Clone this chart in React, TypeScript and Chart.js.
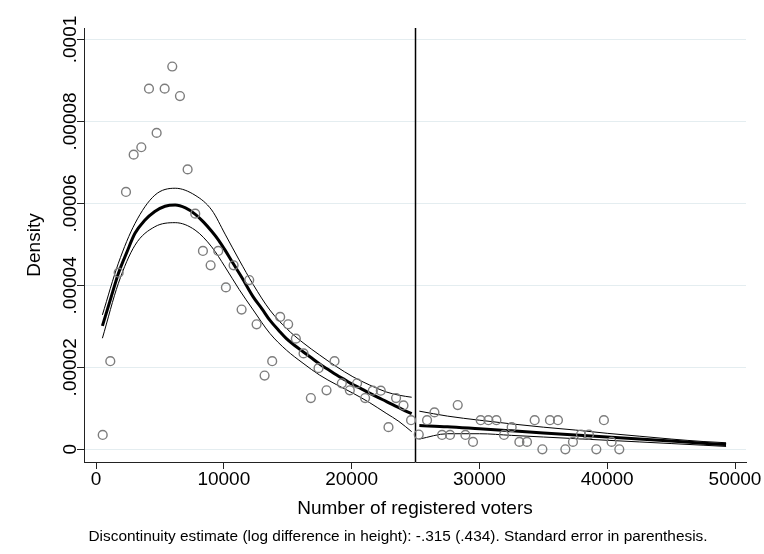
import { useEffect, useRef } from 'react';
import { Chart, registerables } from 'chart.js';

Chart.register(...registerables);

// Histogram bin midpoints and their density heights
const binX = [
  524, 1118, 1772, 2346, 2947, 3545, 4144, 4744, 5371, 5966, 6568, 7168, 7765, 8366, 8968,
  9565, 10164, 10766, 11392, 11988, 12565, 13190, 13786, 14410, 15036, 15637, 16239, 16810,
  17412, 18037, 18663, 19234, 19859, 20430, 21056, 21658, 22283, 22885, 23479, 24058, 24652,
  25254, 25903, 26482, 27076, 27701, 28303, 28905, 29499, 30101, 30703, 31329, 31923, 32525,
  33127, 33722, 34324, 34926, 35520, 36145, 36724, 37318, 37944, 38569, 39148, 39742, 40344,
  40946,
];
const binY = [
  3.5e-6, 2.15e-5, 4.31e-5, 6.28e-5, 7.19e-5, 7.37e-5, 8.8e-5, 7.72e-5, 8.8e-5, 9.34e-5,
  8.62e-5, 6.83e-5, 5.75e-5, 4.84e-5, 4.49e-5, 4.84e-5, 3.95e-5, 4.49e-5, 3.41e-5, 4.13e-5,
  3.05e-5, 1.8e-5, 2.15e-5, 3.23e-5, 3.05e-5, 2.7e-5, 2.34e-5, 1.25e-5, 1.98e-5, 1.44e-5,
  2.15e-5, 1.61e-5, 1.44e-5, 1.61e-5, 1.25e-5, 1.43e-5, 1.43e-5, 5.4e-6, 1.25e-5, 1.07e-5,
  7.1e-6,
  3.6e-6, 7.1e-6, 9.0e-6, 3.5e-6, 3.5e-6, 1.08e-5, 3.5e-6, 1.8e-6, 7.1e-6, 7.1e-6, 7.1e-6,
  3.5e-6, 5.4e-6, 1.8e-6, 1.8e-6, 7.1e-6, 0, 7.1e-6, 7.1e-6, 0, 1.8e-6, 3.6e-6, 3.6e-6, 0,
  7.1e-6, 1.8e-6, 0,
];

// Local linear density fit below the threshold
const leftFitX = [
  500, 1200, 1750, 2400, 3050, 3800, 4600, 5400, 6200, 7000, 7750, 8400, 9050, 9600, 10100,
  10700, 11400, 12300, 13000, 13600, 14300, 14900, 15600, 16200, 16900, 17500, 18200, 18800,
  19500, 20100, 20800, 21400, 22100, 22700, 23400, 24000, 24700,
];
const leftFitY = [
  3.01e-5, 3.73e-5, 4.29e-5, 4.8e-5, 5.27e-5, 5.58e-5, 5.8e-5, 5.93e-5, 5.96e-5, 5.89e-5,
  5.74e-5, 5.55e-5, 5.32e-5, 5.1e-5, 4.86e-5, 4.55e-5, 4.2e-5, 3.72e-5, 3.42e-5, 3.15e-5,
  2.9e-5, 2.7e-5, 2.52e-5, 2.38e-5, 2.22e-5, 2.08e-5, 1.94e-5, 1.82e-5, 1.69e-5, 1.58e-5,
  1.47e-5, 1.37e-5, 1.26e-5, 1.17e-5, 1.06e-5, 9.7e-6, 8.7e-6,
];

// Confidence band below the threshold
const leftBandX = [
  500, 1750, 3050, 4600, 6200, 7750, 9050, 10100, 11200, 12300, 13600, 14900, 16200, 17500,
  18800, 20100, 21400, 22700, 23700, 24700,
];
const leftUpperY = [
  3.28e-5, 4.54e-5, 5.51e-5, 6.2e-5, 6.37e-5, 6.2e-5, 5.84e-5, 5.25e-5, 4.62e-5, 4.02e-5,
  3.4e-5, 2.95e-5, 2.6e-5, 2.3e-5, 2.02e-5, 1.77e-5, 1.57e-5, 1.4e-5, 1.32e-5, 1.27e-5,
];
const leftLowerY = [
  2.71e-5, 4.05e-5, 4.98e-5, 5.43e-5, 5.53e-5, 5.35e-5, 4.94e-5, 4.45e-5, 3.9e-5, 3.4e-5,
  2.83e-5, 2.42e-5, 2.1e-5, 1.81e-5, 1.58e-5, 1.37e-5, 1.14e-5, 8.8e-6, 6.8e-6, 4.3e-6,
];

// Density fit and band above the threshold
const rightFitX = [25300, 27500, 30000, 32500, 35000, 37500, 40000, 42500, 45000, 47500, 49300];
const rightFitY = [5.8e-6, 5.5e-6, 5.0e-6, 4.5e-6, 4.0e-6, 3.5e-6, 3.0e-6, 2.5e-6, 2.0e-6, 1.5e-6, 1.15e-6];
const rightUpperY = [9.3e-6, 8.1e-6, 7.1e-6, 6.2e-6, 5.4e-6, 4.7e-6, 3.9e-6, 3.2e-6, 2.5e-6, 1.9e-6, 1.6e-6];
const rightLowerY = [2.5e-6, 3.8e-6, 3.8e-6, 3.4e-6, 3.0e-6, 2.6e-6, 2.2e-6, 1.8e-6, 1.4e-6, 1.0e-6, 0.7e-6];

const cutoff = 25000;

const xTicks = [0, 10000, 20000, 30000, 40000, 50000];
const xTickLabels = ['0', '10000', '20000', '30000', '40000', '50000'];
const yTicks = [0, 0.00002, 0.00004, 0.00006, 0.00008, 0.0001];
const yTickLabels = ['0', '.00002', '.00004', '.00006', '.00008', '.0001'];

const xTitle = 'Number of registered voters';
const yTitle = 'Density';
const noteText =
  'Discontinuity estimate (log difference in height): -.315 (.434). Standard error in parenthesis.';

const FONT = '"Liberation Sans", Arial, Helvetica, sans-serif';

const pairs = (xs: number[], ys: number[]) => xs.map((x, i) => ({ x, y: ys[i] }));

const curve = (data: { x: number; y: number }[], width: number) => ({
  data,
  showLine: true,
  pointRadius: 0,
  borderColor: '#000',
  borderWidth: width,
  cubicInterpolationMode: 'monotone',
  fill: false,
});

const textPlugin = {
  id: 'textLayer',
  beforeDatasetsDraw(chart: any) {
    const { ctx, chartArea } = chart;
    const xs = chart.scales.x;
    const px = xs.getPixelForValue(cutoff);
    ctx.save();
    ctx.strokeStyle = '#000';
    ctx.lineWidth = 1.5;
    ctx.beginPath();
    ctx.moveTo(px, chartArea.top);
    ctx.lineTo(px, chartArea.bottom);
    ctx.stroke();
    ctx.restore();
  },
  afterDraw(chart: any) {
    const { ctx, chartArea } = chart;
    const xs = chart.scales.x;
    const ys = chart.scales.y;
    ctx.save();
    ctx.fillStyle = '#000';
    ctx.font = `19px ${FONT}`;

    // x tick labels
    ctx.textAlign = 'center';
    ctx.textBaseline = 'alphabetic';
    xTicks.forEach((v, i) => {
      ctx.fillText(xTickLabels[i], xs.getPixelForValue(v), 485);
    });

    // y tick labels, rotated
    yTicks.forEach((v, i) => {
      ctx.save();
      ctx.translate(76, ys.getPixelForValue(v));
      ctx.rotate(-Math.PI / 2);
      ctx.textAlign = 'center';
      ctx.textBaseline = 'alphabetic';
      ctx.fillText(yTickLabels[i], 0, 0);
      ctx.restore();
    });

    // axis titles
    ctx.textAlign = 'center';
    ctx.fillText(xTitle, (chartArea.left + chartArea.right) / 2, 514);
    ctx.save();
    ctx.translate(40, (chartArea.top + chartArea.bottom) / 2);
    ctx.rotate(-Math.PI / 2);
    ctx.fillText(yTitle, 0, 0);
    ctx.restore();

    // note
    ctx.font = `15.4px ${FONT}`;
    ctx.fillText(noteText, 398, 541);
    ctx.restore();
  },
};

export default function App() {
  const canvasRef = useRef<HTMLCanvasElement | null>(null);

  useEffect(() => {
    const canvas = canvasRef.current;
    if (!canvas) return;
    const chart = new Chart(canvas, {
      type: 'scatter',
      data: {
        datasets: [
          {
            data: pairs(binX, binY),
            pointRadius: 4.4,
            pointBorderWidth: 1.4,
            pointBorderColor: '#7d7d7d',
            pointBackgroundColor: 'rgba(0,0,0,0)',
            showLine: false,
          } as any,
          curve(pairs(leftBandX, leftUpperY), 1),
          curve(pairs(leftBandX, leftLowerY), 1),
          curve(pairs(leftFitX, leftFitY), 3),
          curve(pairs(rightFitX, rightUpperY), 1),
          curve(pairs(rightFitX, rightLowerY), 1),
          curve(pairs(rightFitX, rightFitY), 3),
        ] as any,
      },
      options: {
        responsive: false,
        animation: false,
        devicePixelRatio: 1,
        layout: { padding: { top: 28, right: 18, left: 0, bottom: 0 } },
        plugins: { legend: { display: false }, tooltip: { enabled: false } },
        scales: {
          x: {
            type: 'linear',
            min: -940,
            max: 50860,
            afterBuildTicks: (s: any) => {
              s.ticks = xTicks.map((v) => ({ value: v }));
            },
            afterFit: (s: any) => {
              s.height = 92;
            },
            ticks: { display: false },
            grid: {
              drawOnChartArea: false,
              drawTicks: true,
              tickLength: 7,
              tickColor: '#222',
              tickWidth: 1,
            },
            border: { color: '#222', width: 1 },
          },
          y: {
            type: 'linear',
            min: -0.0000031,
            max: 0.0001028,
            afterBuildTicks: (s: any) => {
              s.ticks = yTicks.map((v) => ({ value: v }));
            },
            afterFit: (s: any) => {
              s.width = 84;
            },
            ticks: { display: false },
            grid: {
              color: '#e4edf0',
              lineWidth: 1,
              drawTicks: true,
              tickLength: 7,
              tickColor: '#222',
              tickWidth: 1,
            },
            border: { color: '#222', width: 1 },
          },
        },
      },
      plugins: [textPlugin],
    });
    return () => chart.destroy();
  }, []);

  return (
    <div style={{ position: 'absolute', left: 0, top: 0, width: 764, height: 554, background: '#fff' }}>
      <canvas ref={canvasRef} width={764} height={554} />
    </div>
  );
}
